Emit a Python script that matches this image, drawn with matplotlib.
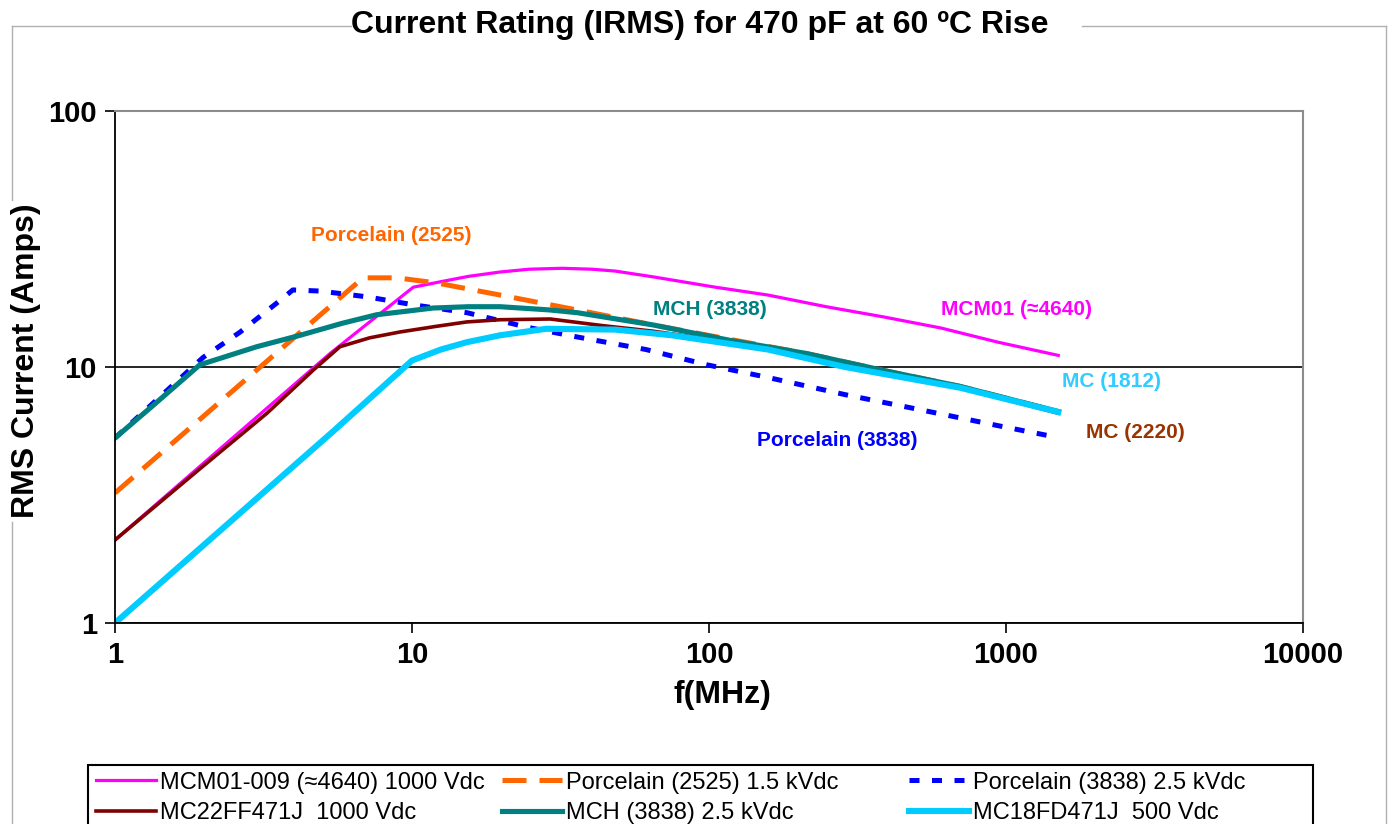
import matplotlib.pyplot as plt
from matplotlib.lines import Line2D
from matplotlib.patches import Rectangle
from matplotlib.ticker import NullLocator

plt.rcParams['font.family'] = ['Liberation Sans', 'DejaVu Sans']

W, H = 1393, 824

# frequencies in MHz, currents in A
mcm_f = [1, 5.3, 10.1, 12.4, 15.5, 19.8, 24.8, 32, 40.4, 48.3, 64.8, 105, 158, 248, 386, 604, 940, 1500]
mcm_i = [2.11, 11.3, 20.5, 21.5, 22.6, 23.5, 24.1, 24.3, 24.1, 23.7, 22.5, 20.5, 19.1, 17.2, 15.7, 14.2, 12.5, 11.1]

p25_f = [1, 6.84, 8.9, 12.1, 19.8, 36, 68.9, 148, 212, 386, 700, 1500]
p25_i = [3.22, 22.3, 22.3, 21.3, 19.1, 16.7, 14.4, 12.2, 11.3, 9.7, 8.4, 6.7]

p38_f = [1, 1.98, 2.64, 3.51, 3.97, 4.9, 7.05, 10.1, 15.3, 24.4, 36, 61.4, 98.4, 158, 287, 517, 940, 1500]
p38_i = [5.28, 10.9, 13.7, 17.8, 20.0, 19.8, 18.8, 17.5, 16.3, 14.3, 13.1, 11.7, 10.2, 9.1, 7.8, 6.8, 5.9, 5.3]

mc22_f = [1, 1.93, 3.25, 4.64, 5.72, 7.2, 9.1, 12, 15.3, 19.8, 29.2, 44, 64.8, 118, 212, 386, 700, 1500]
mc22_i = [2.11, 4.0, 6.6, 9.7, 12.0, 13.0, 13.7, 14.4, 15.0, 15.3, 15.4, 14.5, 13.8, 12.5, 11.2, 9.6, 8.3, 6.6]

mch_f = [1, 1.31, 1.93, 3.0, 4.2, 5.8, 7.6, 11.8, 15.5, 19.8, 29.2, 36, 64.8, 118, 212, 386, 700, 1500]
mch_i = [5.28, 6.9, 10.2, 12.0, 13.3, 14.8, 16.0, 17.0, 17.2, 17.2, 16.7, 16.3, 14.6, 12.7, 11.3, 9.7, 8.4, 6.7]

mc18_f = [1, 5.42, 10, 12.5, 15.3, 19.8, 28.3, 48.3, 75, 158, 287, 700, 1500]
mc18_i = [1.0, 5.6, 10.6, 11.7, 12.5, 13.3, 14.1, 14.0, 13.3, 11.7, 10.0, 8.3, 6.67]

x_ticks = [1, 10, 100, 1000, 10000]
y_ticks = [1, 10, 100]


def fx(px):
    return px / W


def fy(py):
    return 1 - py / H


fig = plt.figure(figsize=(W / 100, H / 100), dpi=100)
ax = fig.add_axes([fx(115), fy(623), (1303 - 115) / W, (623 - 111) / H])

l1, = ax.plot(mcm_f, mcm_i, color='#FF00FF', lw=2.3, label='MCM01-009 (≈4640) 1000 Vdc')
l2, = ax.plot(p25_f, p25_i, color='#FF6600', lw=3.6, dashes=(4.8, 2.6),
              label='Porcelain (2525) 1.5 kVdc')
l3, = ax.plot(p38_f, p38_i, color='#0000FF', lw=3.6, dashes=(2, 2.5),
              label='Porcelain (3838) 2.5 kVdc')
l4, = ax.plot(mc22_f, mc22_i, color='#800000', lw=2.6, label='MC22FF471J  1000 Vdc')
l5, = ax.plot(mch_f, mch_i, color='#008080', lw=3.7, label='MCH (3838) 2.5 kVdc')
l6, = ax.plot(mc18_f, mc18_i, color='#00CCFF', lw=4.4, label='MC18FD471J  500 Vdc')

ax.set_xscale('log')
ax.set_yscale('log')
ax.set_xlim(1, 10000)
ax.set_ylim(1, 100)
ax.set_xticks(x_ticks)
ax.set_xticklabels([str(v) for v in x_ticks], fontsize=21, fontweight='bold')
ax.set_yticks(y_ticks)
ax.set_yticklabels([str(v) for v in y_ticks], fontsize=21, fontweight='bold')
ax.xaxis.set_minor_locator(NullLocator())
ax.yaxis.set_minor_locator(NullLocator())
ax.tick_params(direction='out', length=7, width=1.2, pad=6)

ax.yaxis.grid(True, color='black', lw=1.2)
for side in ['top', 'right']:
    ax.spines[side].set_color('#8c8c8c')
    ax.spines[side].set_linewidth(1.5)
for side in ['left', 'bottom']:
    ax.spines[side].set_color('black')
    ax.spines[side].set_linewidth(1.3)

# curve labels
lab = dict(fontsize=15, fontweight='bold', ha='center', va='center')
ax.text(8.5, 32.5, 'Porcelain (2525)', color='#FF6600', **lab)
ax.text(100.7, 16.7, 'MCH (3838)', color='#008080', **lab)
ax.text(1089, 16.7, 'MCM01 (≈4640)', color='#FF00FF', **lab)
ax.text(2274, 8.8, 'MC (1812)', color='#33CCFF', **lab)
ax.text(2718, 5.57, 'MC (2220)', color='#993300', **lab)
ax.text(270, 5.14, 'Porcelain (3838)', color='#0000FF', **lab)

# titles
fig.text(fx(700), fy(33), 'Current Rating (IRMS) for 470 pF at 60 ºC Rise',
         ha='center', va='baseline', fontsize=23, fontweight='bold')
fig.text(fx(26), fy(361), 'RMS Current (Amps)', rotation=90, ha='center', va='center',
         fontsize=23, fontweight='bold')
fig.text(fx(722), fy(703), 'f(MHz)', ha='center', va='baseline',
         fontsize=23, fontweight='bold')

# chart area border (broken behind the title and y label)
border = [((12, 26), (351, 26)), ((1082, 26), (1386, 26)),
          ((12, 26), (12, 200)), ((12, 522), (12, 830)), ((1386, 26), (1386, 830))]
for (x0, y0), (x1, y1) in border:
    fig.add_artist(Line2D([fx(x0), fx(x1)], [fy(y0), fy(y1)], transform=fig.transFigure,
                          color='#b0b0b0', lw=1.0))

# legend box and columns
fig.add_artist(Rectangle((fx(88), fy(840)), (1313 - 88) / W, (840 - 765) / H,
                         transform=fig.transFigure, fill=False, edgecolor='black', lw=1.5))
cols = [([l1, l4], 96), ([l2, l5], 502), ([l3, l6], 909)]
for handles, x0 in cols:
    fig.legend(handles=handles, loc='center left', bbox_to_anchor=(fx(x0), fy(798)),
               frameon=False, fontsize=17, handlelength=2.55, handletextpad=0.15,
               labelspacing=0.38, borderpad=0, borderaxespad=0)

fig.savefig('out.png', dpi=100)
